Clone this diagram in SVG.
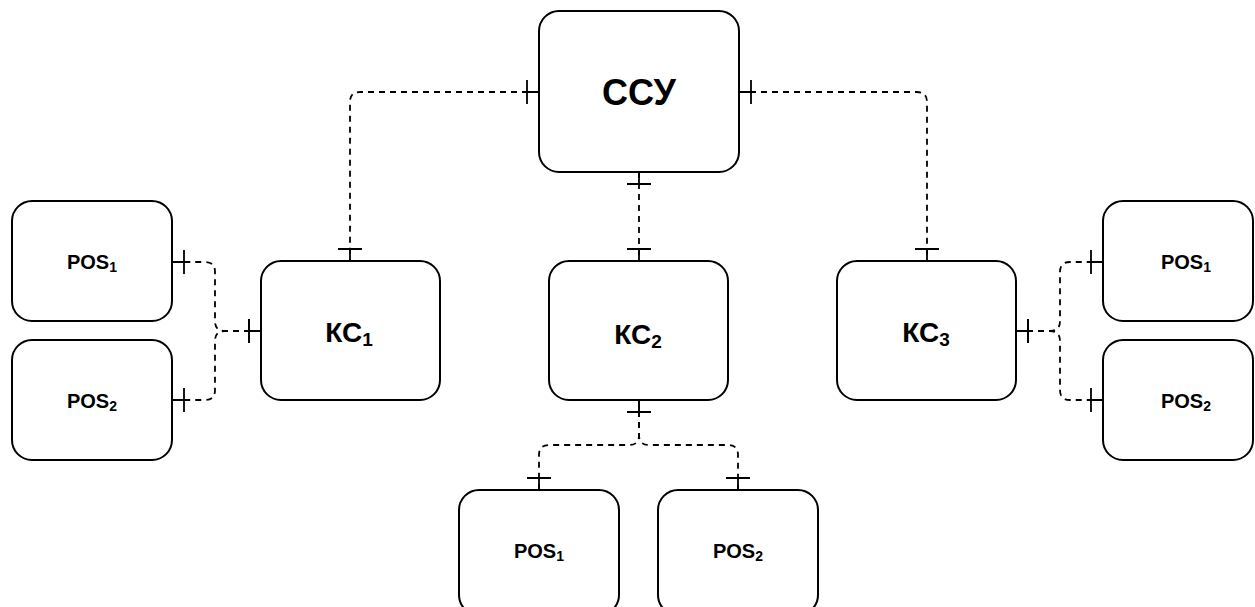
<svg xmlns="http://www.w3.org/2000/svg" width="1255" height="607" viewBox="0 0 1255 607">
  <style>
    .box { fill: #fff; stroke: #000; stroke-width: 2; }
    .lbl { font-family: "Liberation Sans", Arial, sans-serif; font-weight: bold; fill: #000; text-anchor: middle; }
    .big { font-size: 36px; }
    .mid { font-size: 28px; }
    .sm { font-size: 20px; }
    .edge { fill: none; stroke: #000; stroke-width: 1.8; stroke-dasharray: 6 5; marker-start: url(#one); marker-end: url(#one); }
  </style>
  <defs>
    <marker id="one" markerUnits="userSpaceOnUse" orient="auto-start-reverse" refX="0" refY="0" markerWidth="40" markerHeight="40" viewBox="-20 -20 40 40" overflow="visible">
      <path d="M-12,-12 V12 M-12,0 H0" fill="none" stroke="#000" stroke-width="1.8"/>
    </marker>
  </defs>
  <rect width="1255" height="607" fill="#fff"/>

  <g id="connectors">
    <path class="edge" d="M539,92 H360 Q350,92 350,102 V261"/>
    <path class="edge" d="M739,92 H917 Q927,92 927,102 V261"/>
    <path class="edge" d="M639,172 V261"/>
    <path class="edge" d="M639,400 V435 Q639,445 629,445 H549 Q539,445 539,455 V490"/>
    <path class="edge" d="M639,400 V435 Q639,445 649,445 H728 Q738,445 738,455 V490"/>
    <path class="edge" d="M261,331 H225 Q215,331 215,321 V272 Q215,262 205,262 H172"/>
    <path class="edge" d="M261,331 H225 Q215,331 215,341 V390 Q215,400 205,400 H172"/>
    <path class="edge" d="M1016,331 H1050 Q1060,331 1060,321 V272 Q1060,262 1070,262 H1103"/>
    <path class="edge" d="M1016,331 H1050 Q1060,331 1060,341 V390 Q1060,400 1070,400 H1103"/>
  </g>

  <g id="ccy">
    <rect class="box" x="539" y="11" width="200" height="161" rx="20"/>
    <text class="lbl big" x="639" y="105">ССУ</text>
  </g>
  <g id="kc1">
    <rect class="box" x="261" y="261" width="179" height="139" rx="20"/>
    <text class="lbl mid" x="349" y="342">КС<tspan font-size="19" dy="4">1</tspan></text>
  </g>
  <g id="kc2">
    <rect class="box" x="549" y="261" width="179" height="139" rx="20"/>
    <text class="lbl mid" x="638" y="344">КС<tspan font-size="19" dy="4">2</tspan></text>
  </g>
  <g id="kc3">
    <rect class="box" x="837" y="261" width="179" height="139" rx="20"/>
    <text class="lbl mid" x="926" y="342">КС<tspan font-size="19" dy="4">3</tspan></text>
  </g>
  <g id="pos1-left">
    <rect class="box" x="12" y="201" width="160" height="120" rx="20"/>
    <text class="lbl sm" x="92" y="269">POS<tspan font-size="14" dy="3">1</tspan></text>
  </g>
  <g id="pos2-left">
    <rect class="box" x="12" y="340" width="160" height="120" rx="20"/>
    <text class="lbl sm" x="92" y="408">POS<tspan font-size="14" dy="3">2</tspan></text>
  </g>
  <g id="pos1-right">
    <rect class="box" x="1103" y="201" width="150" height="120" rx="20"/>
    <text class="lbl sm" x="1186" y="269">POS<tspan font-size="14" dy="3">1</tspan></text>
  </g>
  <g id="pos2-right">
    <rect class="box" x="1103" y="340" width="150" height="120" rx="20"/>
    <text class="lbl sm" x="1186" y="408">POS<tspan font-size="14" dy="3">2</tspan></text>
  </g>
  <g id="pos1-bottom">
    <rect class="box" x="459" y="490" width="160" height="125" rx="20"/>
    <text class="lbl sm" x="539" y="558">POS<tspan font-size="14" dy="3">1</tspan></text>
  </g>
  <g id="pos2-bottom">
    <rect class="box" x="658" y="490" width="160" height="125" rx="20"/>
    <text class="lbl sm" x="738" y="558">POS<tspan font-size="14" dy="3">2</tspan></text>
  </g>
</svg>
